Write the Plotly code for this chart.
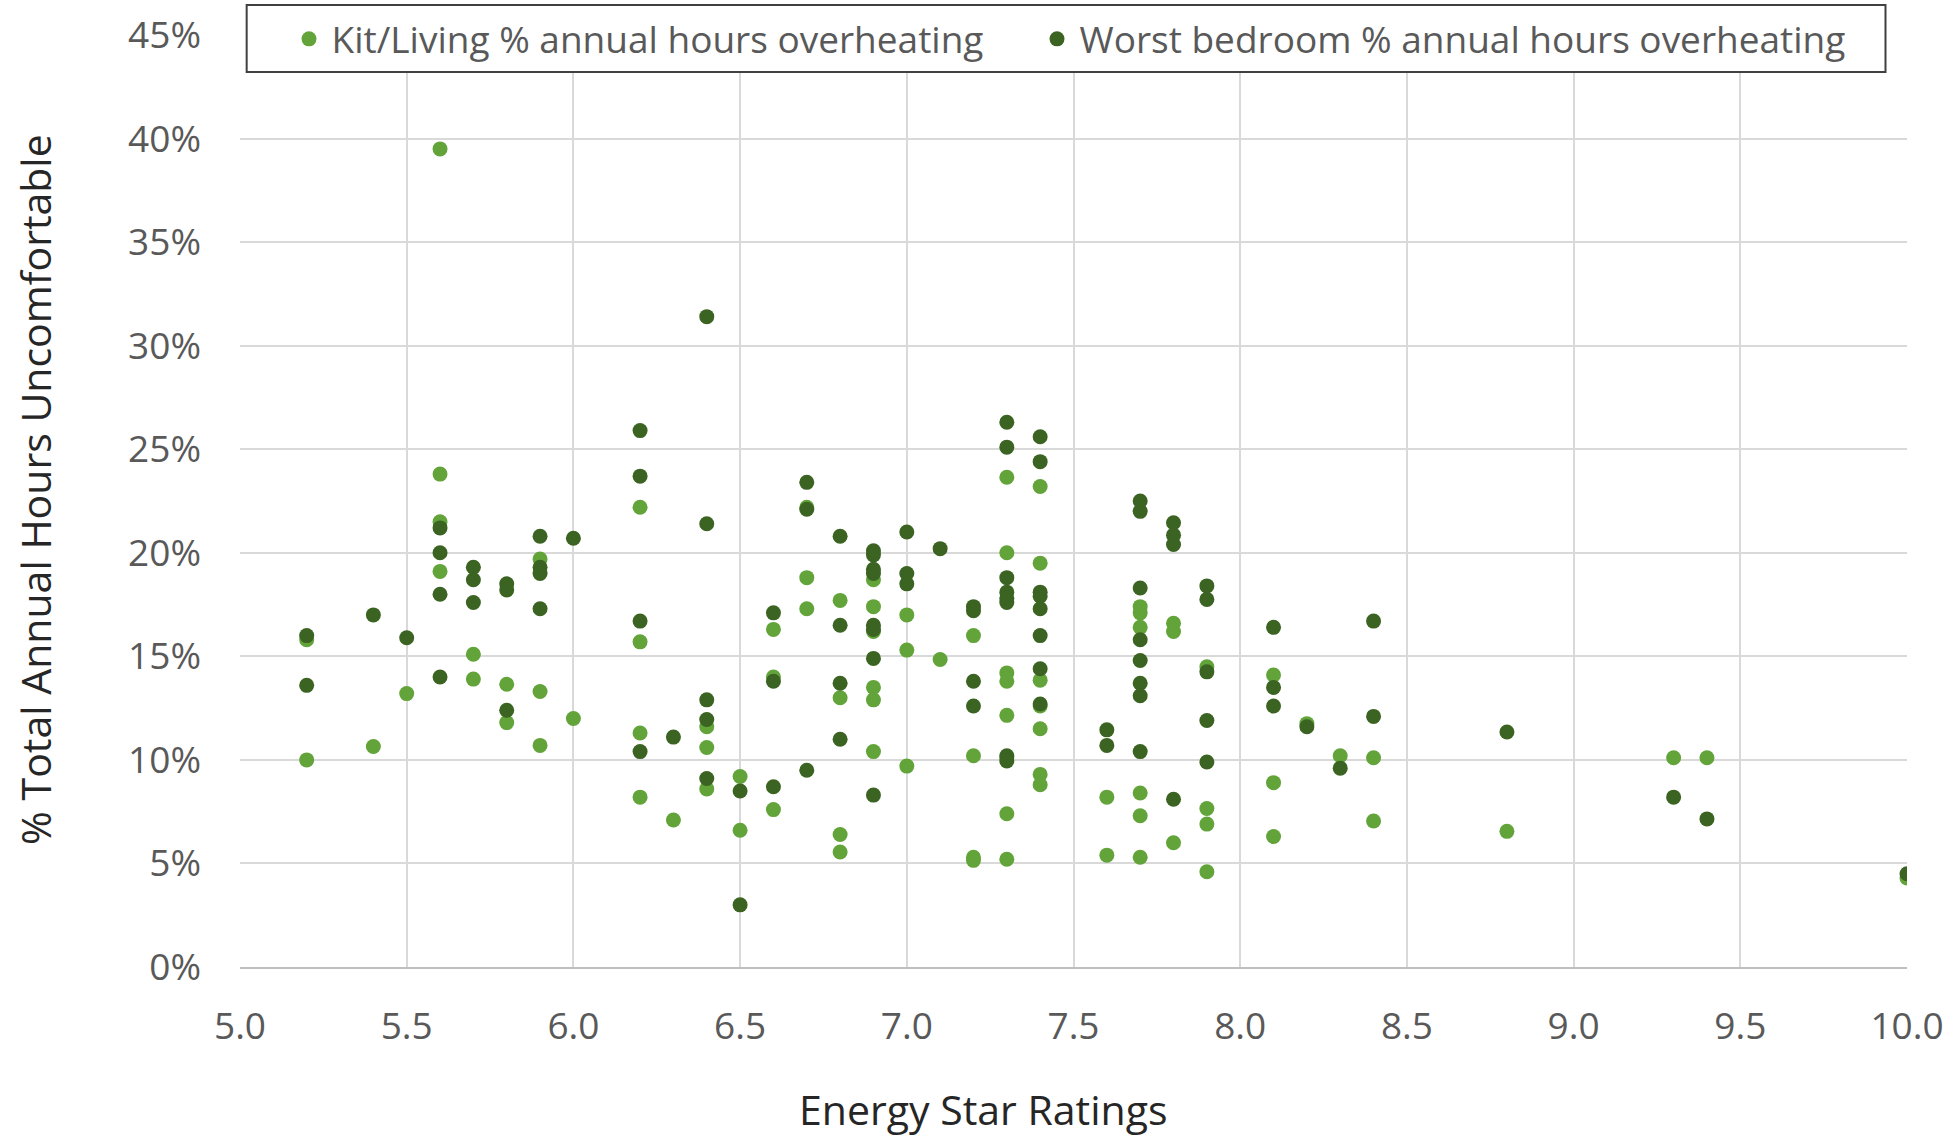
import plotly.graph_objects as go

# Kit/Living % annual hours overheating
kit_x = [5.2, 5.2, 5.4, 5.5, 5.6, 5.6, 5.6, 5.6, 5.7, 5.7, 5.8, 5.8, 5.9, 5.9, 5.9, 6.0,
         6.2, 6.2, 6.2, 6.2, 6.3, 6.4, 6.4, 6.4, 6.5, 6.5, 6.6, 6.6, 6.6,
         6.7, 6.7, 6.7, 6.8, 6.8, 6.8, 6.8, 6.9, 6.9, 6.9, 6.9, 6.9, 6.9,
         7.0, 7.0, 7.0, 7.1, 7.2, 7.2, 7.2, 7.2,
         7.3, 7.3, 7.3, 7.3, 7.3, 7.3, 7.3, 7.3,
         7.4, 7.4, 7.4, 7.4, 7.4, 7.4, 7.4, 7.6, 7.6,
         7.7, 7.7, 7.7, 7.7, 7.7, 7.7, 7.8, 7.8, 7.8,
         7.9, 7.9, 7.9, 7.9, 8.1, 8.1, 8.1, 8.2, 8.3, 8.4, 8.4, 8.8, 9.3, 9.4, 10.0]
kit_y = [15.8, 10.0, 10.65, 13.2, 39.5, 23.8, 21.5, 19.1, 15.1, 13.9, 13.65, 11.8, 19.7, 13.3, 10.7, 12.0,
         22.2, 15.7, 11.3, 8.2, 7.1, 11.6, 10.6, 8.6, 9.2, 6.6, 16.3, 14.0, 7.6,
         22.2, 18.8, 17.3, 17.7, 13.0, 6.4, 5.55, 18.7, 17.4, 16.2, 13.5, 12.9, 10.4,
         17.0, 15.3, 9.7, 14.85, 16.0, 10.2, 5.3, 5.15,
         23.65, 20.0, 14.2, 13.8, 12.15, 10.1, 7.4, 5.2,
         23.2, 19.5, 13.85, 12.6, 11.5, 9.3, 8.8, 8.2, 5.4,
         17.4, 17.1, 16.4, 8.4, 7.3, 5.3, 16.6, 16.2, 6.0,
         14.5, 7.65, 6.9, 4.6, 14.1, 8.9, 6.3, 11.75, 10.2, 10.1, 7.05, 6.55, 10.1, 10.1, 4.3]

# Worst bedroom % annual hours overheating
bed_x = [5.2, 5.2, 5.4, 5.5, 5.6, 5.6, 5.6, 5.6, 5.7, 5.7, 5.7, 5.8, 5.8, 5.8,
         5.9, 5.9, 5.9, 5.9, 6.0, 6.2, 6.2, 6.2, 6.2, 6.3,
         6.4, 6.4, 6.4, 6.4, 6.4, 6.5, 6.5, 6.6, 6.6, 6.6, 6.7, 6.7, 6.7,
         6.8, 6.8, 6.8, 6.8, 6.9, 6.9, 6.9, 6.9, 6.9, 6.9, 6.9, 6.9,
         7.0, 7.0, 7.0, 7.1, 7.2, 7.2, 7.2, 7.2,
         7.3, 7.3, 7.3, 7.3, 7.3, 7.3, 7.3, 7.3,
         7.4, 7.4, 7.4, 7.4, 7.4, 7.4, 7.4, 7.4, 7.6, 7.6,
         7.7, 7.7, 7.7, 7.7, 7.7, 7.7, 7.7, 7.7, 7.8, 7.8, 7.8, 7.8,
         7.9, 7.9, 7.9, 7.9, 7.9, 8.1, 8.1, 8.1, 8.2, 8.3, 8.4, 8.4,
         8.8, 9.3, 9.4, 10.0]
bed_y = [16.0, 13.6, 17.0, 15.9, 21.2, 20.0, 18.0, 14.0, 19.3, 18.7, 17.6, 18.5, 18.2, 12.4,
         20.8, 19.3, 19.0, 17.3, 20.7, 25.9, 23.7, 16.7, 10.4, 11.1,
         31.4, 21.4, 12.9, 11.95, 9.1, 8.5, 3.0, 17.1, 13.8, 8.7, 23.4, 22.1, 9.5,
         20.8, 16.5, 13.7, 11.0, 20.1, 19.9, 19.2, 19.0, 16.5, 16.3, 14.9, 8.3,
         21.0, 19.0, 18.5, 20.2, 17.4, 17.2, 13.8, 12.6,
         26.3, 25.1, 18.8, 18.1, 17.8, 17.6, 10.2, 9.95,
         25.6, 24.4, 18.1, 17.9, 17.3, 16.0, 14.4, 12.7, 11.45, 10.7,
         22.5, 22.0, 18.3, 15.8, 14.8, 13.7, 13.1, 10.4, 21.45, 20.85, 20.4, 8.1,
         18.4, 17.75, 14.25, 11.9, 9.9, 16.4, 13.5, 12.6, 11.6, 9.6, 16.7, 12.1,
         11.35, 8.2, 7.15, 4.5]

x_ticks = [5.0, 5.5, 6.0, 6.5, 7.0, 7.5, 8.0, 8.5, 9.0, 9.5, 10.0]
y_ticks = [0, 5, 10, 15, 20, 25, 30, 35, 40, 45]
y_tick_labels = ["0%", "5%", "10%", "15%", "20%", "25%", "30%", "35%", "40%", "45%"]

LIGHT = "#62a43a"
DARK = "#3b6322"
TXT = "#595959"
TITLE = "#262626"
FONT = "Open Sans"

fig = go.Figure()
fig.add_trace(go.Scatter(x=kit_x, y=kit_y, mode="markers",
                         name="Kit/Living % annual hours overheating", legend="legend",
                         marker=dict(color=LIGHT, size=15, line=dict(width=0))))
fig.add_trace(go.Scatter(x=bed_x, y=bed_y, mode="markers",
                         name="Worst bedroom % annual hours overheating", legend="legend2",
                         marker=dict(color=DARK, size=15, line=dict(width=0))))

# legend frame
fig.add_shape(type="rect", xref="paper", yref="paper",
              x0=0.004, x1=0.9871, y0=0.9603, y1=1.0322,
              line=dict(color="#404040", width=2), fillcolor="white", layer="above")

leg_common = dict(orientation="h", y=0.9954, yanchor="middle", xanchor="left",
                  bgcolor="rgba(0,0,0,0)", borderwidth=0,
                  font=dict(family=FONT, size=37, color=TXT),
                  itemsizing="trace", itemwidth=35)

fig.update_layout(
    width=1954, height=1136,
    margin=dict(l=240, r=47, t=35, b=169, autoexpand=False),
    paper_bgcolor="white", plot_bgcolor="white",
    font=dict(family=FONT, color=TXT, size=37),
    showlegend=True,
    legend=dict(x=0.0279, **leg_common),
    legend2=dict(x=0.4766, **leg_common),
    annotations=[
        dict(text="Energy Star Ratings", xref="paper", yref="paper",
             x=0.4457, y=-0.1524, xanchor="center", yanchor="middle", showarrow=False,
             font=dict(size=41, color=TITLE, family=FONT)),
        dict(text="% Total Annual Hours Uncomfortable", xref="paper", yref="paper",
             x=-0.123, y=0.5129, xanchor="center", yanchor="middle", showarrow=False,
             textangle=-90, font=dict(size=41, color=TITLE, family=FONT)),
    ],
)
fig.update_xaxes(range=[5.0, 10.0], tickvals=x_ticks, tickformat=".1f",
                 showgrid=True, gridcolor="#d9d9d9", gridwidth=1.5,
                 showline=True, linecolor="#bfbfbf", linewidth=2,
                 zeroline=False, ticks="", ticklabelstandoff=26,
                 ticklabeloverflow="allow",
                 tickfont=dict(size=37, color=TXT, family=FONT))
fig.update_yaxes(range=[0, 45], tickvals=y_ticks, ticktext=y_tick_labels,
                 showgrid=True, gridcolor="#d9d9d9", gridwidth=1.5,
                 showline=False, zeroline=False, ticks="", ticklabelstandoff=38,
                 ticklabeloverflow="allow",
                 tickfont=dict(size=37, color=TXT, family=FONT))

fig.write_html("out.html", config={"displayModeBar": False},
               post_script="document.body.style.margin='0px';")
